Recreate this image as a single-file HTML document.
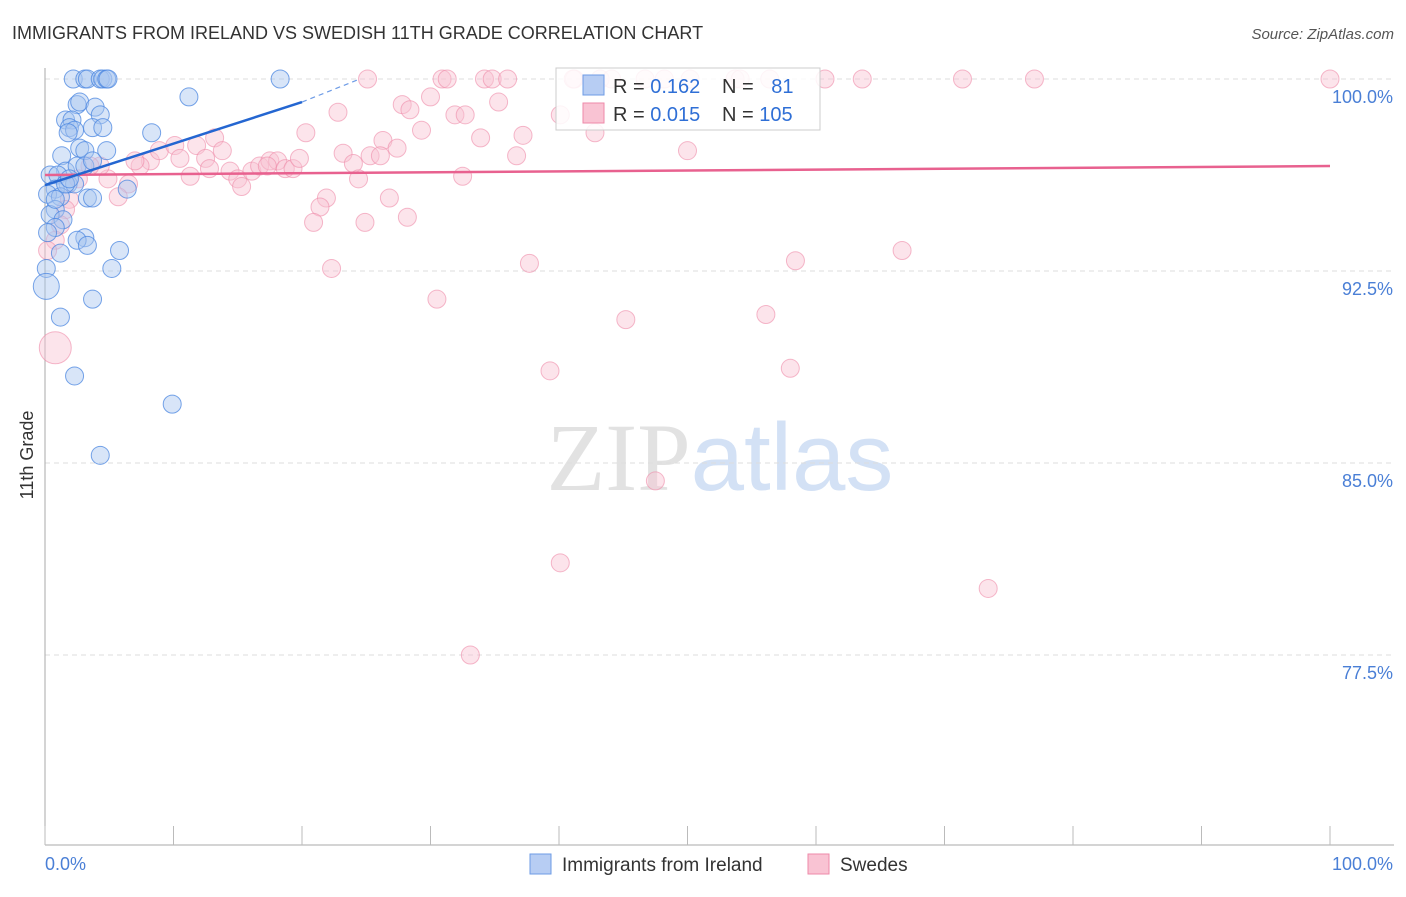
<!DOCTYPE html>
<html><head><meta charset="utf-8"><style>
body{margin:0;background:#fff;font-family:"Liberation Sans",sans-serif}
svg text{font-family:"Liberation Sans",sans-serif}
</style></head><body>
<svg id="chart" width="1406" height="892" xmlns="http://www.w3.org/2000/svg">
<text x="12" y="39" font-size="18" fill="#333">IMMIGRANTS FROM IRELAND VS SWEDISH 11TH GRADE CORRELATION CHART</text>
<text x="1394" y="39" font-size="15" fill="#555" text-anchor="end" font-style="italic">Source: ZipAtlas.com</text>
<text x="720" y="490" font-size="96" text-anchor="middle"><tspan fill="#e2e2e2" font-family="Liberation Serif">ZIP</tspan><tspan fill="#d3e1f5">atlas</tspan></text>
<text transform="translate(33,455) rotate(-90)" font-size="18" fill="#333" text-anchor="middle">11th Grade</text>
<g id="grid"></g><g id="pts"></g><g id="lines"></g>
<g>
<rect x="556" y="68" width="264" height="62" fill="#fff" fill-opacity="0.85" stroke="#ccc"/>
<rect x="583" y="75" width="21" height="20" fill="#b7cdf3" stroke="#6d9be6"/>
<rect x="583" y="103" width="21" height="20" fill="#f9c3d3" stroke="#ee8aa8"/>
<text x="613" y="93" font-size="20" fill="#333">R = <tspan fill="#2f6fd6">0.162</tspan></text>
<text x="722" y="93" font-size="20" fill="#333">N = <tspan fill="#2f6fd6" dx="12">81</tspan></text>
<text x="613" y="121" font-size="20" fill="#333">R = <tspan fill="#2f6fd6">0.015</tspan></text>
<text x="722" y="121" font-size="20" fill="#333">N = <tspan fill="#2f6fd6">105</tspan></text>
</g>
<g>
<rect x="530" y="854" width="21" height="20" fill="#b7cdf3" stroke="#6d9be6"/>
<text x="562" y="871" font-size="19" fill="#333">Immigrants from Ireland</text>
<rect x="808" y="854" width="21" height="20" fill="#f9c3d3" stroke="#ee8aa8"/>
<text x="840" y="871" font-size="19" fill="#333">Swedes</text>
</g>
<text x="45" y="870" font-size="18" fill="#4a7fd6">0.0%</text>
<text x="1393" y="870" font-size="18" fill="#4a7fd6" text-anchor="end">100.0%</text>
</svg>
<script>
const yTicks=[100,92.5,85,77.5];
const yTickLabels=["100.0%","92.5%","85.0%","77.5%"];
const xTicks=[0,10,20,30,40,50,60,70,80,90,100];
const blueX=[2.2,3.1,3.3,4.3,4.5,4.8,4.9,18.3,11.2,2.5,2.7,3.9,4.3,1.6,2.1,1.9,2.3,1.8,3.7,4.5,8.3,2.7,3.1,4.8,1.3,1.6,2.5,3.1,3.7,0.4,1.0,1.8,2.3,0.8,0.2,1.2,3.3,3.7,6.4,0.8,0.4,1.4,0.8,0.2,3.1,2.5,3.3,5.8,1.2,5.2,0.1,0.1,3.7,1.2,2.3,9.9,4.3,0.8,1.6,1.9];
const blueY=[100,100,100,100,100,100,100,100,99.3,99.0,99.1,98.9,98.6,98.4,98.4,98.1,98.0,97.9,98.1,98.1,97.9,97.3,97.2,97.2,97.0,96.4,96.6,96.6,96.8,96.25,96.25,95.9,95.9,95.7,95.5,95.4,95.35,95.35,95.7,94.9,94.7,94.5,94.2,94.0,93.8,93.7,93.5,93.3,93.2,92.6,92.6,91.9,91.4,90.7,88.4,87.3,85.3,95.3,95.9,96.1];
const blueR=[9,9,9,9,9,9,9,9,9,9,9,9,9,9,9,9,9,9,9,9,9,9,9,9,9,9,9,9,9,9,9,9,9,9,9,9,9,9,9,9,9,9,9,9,9,9,9,9,9,9,9,13,9,9,9,9,9,9,9,9];
const pinkX=[25.1,30.9,31.3,34.2,34.8,36.0,41.2,43.2,46.7,48.2,50.2,53.7,54.1,56.4,60.7,63.6,71.4,77.0,100,22.8,27.8,30.0,28.4,31.9,32.7,35.3,20.3,26.3,29.3,33.9,37.2,42.8,25.3,27.4,23.2,24.0,26.1,36.7,50.0,24.4,32.5,21.9,21.4,20.9,26.8,28.2,24.9,22.3,37.7,30.5,45.2,58.4,66.7,56.1,39.3,58.0,47.5,40.1,73.4,33.1,0.8,8.2,8.9,10.1,10.5,11.8,13.2,13.8,12.5,12.8,11.3,14.4,15.0,15.3,16.1,16.7,17.5,18.1,18.7,19.3,19.8,17.3,7.4,7.0,4.9,6.5,5.7,4.3,3.5,2.6,1.9,1.6,1.2,0.8,0.2,41.1,44.1,40.1];
const pinkY=[100,100,100,100,100,100,100,100,100,100,100,100,100,100,100,100,100,100,100,98.7,99.0,99.3,98.8,98.6,98.6,99.1,97.9,97.6,98.0,97.7,97.8,97.9,97.0,97.3,97.1,96.7,97.0,97.0,97.2,96.1,96.2,95.35,95.0,94.4,95.35,94.6,94.4,92.6,92.8,91.4,90.6,92.9,93.3,90.8,88.6,88.7,84.3,81.1,80.1,77.5,89.5,96.8,97.2,97.4,96.9,97.4,97.7,97.2,96.9,96.5,96.2,96.4,96.1,95.8,96.4,96.6,96.8,96.8,96.5,96.5,96.9,96.6,96.6,96.8,96.1,95.9,95.4,96.6,96.6,96.1,95.3,94.9,94.3,93.7,93.3,100,100,98.6];
const blueLine=[[0,95.85],[20,99.1]], blueDash=[[20,99.1],[24.5,100]];
const pinkLine=[[0,96.25],[100,96.6]];
const X=v=>45+v*12.85, Y=v=>79+(100-v)*25.6;
const NS="http://www.w3.org/2000/svg";
function mk(tag,attrs,parent){const e=document.createElementNS(NS,tag);for(const k in attrs)e.setAttribute(k,attrs[k]);parent.appendChild(e);return e;}
const grid=document.getElementById('grid'),pts=document.getElementById('pts'),lines=document.getElementById('lines');
yTicks.forEach((t,i)=>{
 const l=mk('line',{x1:45,x2:1394,y1:Y(t),y2:Y(t),stroke:'#ddd','stroke-dasharray':'5,4'},grid);
 
 
 const tx=mk('text',{x:1393,y:Y(t)+24,'font-size':18,fill:'#4a7fd6','text-anchor':'end'},grid);
 tx.textContent=yTickLabels[i];
 
 
});
const ax=mk('line',{x1:45,x2:45,y1:68,y2:845,stroke:'#aaa'},grid);


const bx=mk('line',{x1:45,x2:1394,y1:845,y2:845,stroke:'#aaa'},grid);


xTicks.forEach(t=>{
 const l=mk('line',{x1:X(t),x2:X(t),y1:826,y2:845,stroke:'#bbb'},grid);
 
 
});
pinkX.forEach((x,i)=>{
 const c=mk('circle',{cx:X(x),cy:Y(pinkY[i]),r:i==60?16:9,fill:'#f9c3d3','fill-opacity':0.45,stroke:'#ee8aa8','stroke-opacity':0.6},pts);
 
 
});
blueX.forEach((x,i)=>{
 const c=mk('circle',{cx:X(x),cy:Y(blueY[i]),r:blueR[i],fill:'#a9c6f0','fill-opacity':0.45,stroke:'#4a86e0','stroke-opacity':0.75},pts);
 
 
});
const pl=mk('line',{x1:X(pinkLine[0][0]),y1:Y(pinkLine[0][1]),x2:X(pinkLine[1][0]),y2:Y(pinkLine[1][1]),stroke:'#e8618f','stroke-width':2.5},lines);


const bl=mk('line',{x1:X(blueLine[0][0]),y1:Y(blueLine[0][1]),x2:X(blueLine[1][0]),y2:Y(blueLine[1][1]),stroke:'#2466d1','stroke-width':2.5},lines);


const bd=mk('line',{x1:X(blueDash[0][0]),y1:Y(blueDash[0][1]),x2:X(blueDash[1][0]),y2:Y(blueDash[1][1]),stroke:'#6d9be6','stroke-width':1.2,'stroke-dasharray':'5,4'},lines);


</script>
</body></html>
